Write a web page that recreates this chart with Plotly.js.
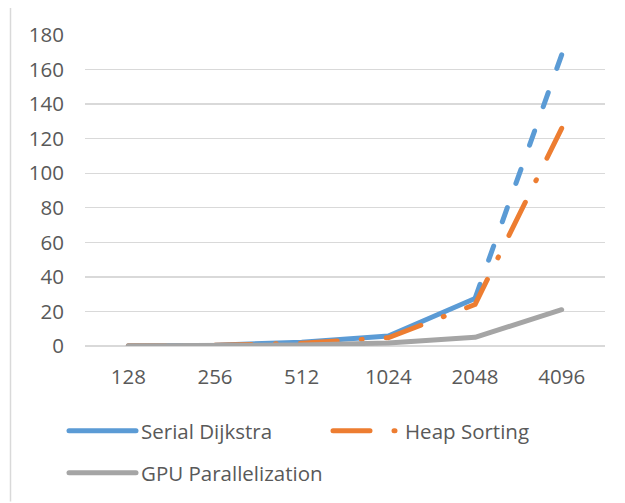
<!DOCTYPE html>
<html>
<head>
<meta charset="utf-8">
<script src="https://cdn.plot.ly/plotly-3.0.1.min.js"></script>
<style>
  html, body { margin: 0; padding: 0; background: #fff; }
  #chart { width: 625px; height: 503px; }
  path.js-line { stroke-linecap: round; stroke-linejoin: round; }
</style>
</head>
<body>
<div id="chart"></div>
<script>
const categories = ['128', '256', '512', '1024', '2048', '4096'];
const serialDijkstra = [0.1, 0.5, 2.2, 5.8, 27.5, 168.5];
const heapSorting = [0.1, 0.4, 1.6, 4.8, 24, 126];
const gpuParallelization = [0.1, 0.2, 0.6, 1.8, 5, 21];
const yTicks = [0, 20, 40, 60, 80, 100, 120, 140, 160, 180];

const BLUE = '#5b9bd5', ORANGE = '#ed7d31', GRAY = '#a5a5a5';
const LW = 5;
const FONT = 'Open Sans, Lato, sans-serif';
const FS = 20.5;

const traces = [
  {
    x: categories.slice(0, 5), y: serialDijkstra.slice(0, 5),
    name: 'Serial Dijkstra', mode: 'lines', legend: 'legend',
    line: { color: BLUE, width: LW, dash: 'solid' }, hoverinfo: 'skip'
  },
  {
    x: categories.slice(4), y: serialDijkstra.slice(4),
    name: 'Serial Dijkstra', mode: 'lines', showlegend: false,
    line: { color: BLUE, width: LW, dash: '15px,25.7px' }, hoverinfo: 'skip'
  },
  {
    x: categories, y: heapSorting,
    name: 'Heap Sorting', mode: 'lines', legend: 'legend2',
    line: { color: ORANGE, width: LW, dash: '37px,24px,1px,24px' }, hoverinfo: 'skip'
  },
  {
    x: categories, y: gpuParallelization,
    name: 'GPU Parallelization', mode: 'lines', legend: 'legend3',
    line: { color: GRAY, width: LW, dash: 'solid' }, hoverinfo: 'skip'
  }
];

const plotL = 85, plotR = 605, plotT = 35, plotB = 347;
const W = 625, H = 503;
const pw = plotR - plotL, ph = plotB - plotT;
const px = v => (v - plotL) / pw;
const py = v => (plotB - v) / ph;

function legendAt(x, y) {
  return {
    orientation: 'h', x: px(x), xanchor: 'left', y: py(y), yanchor: 'middle',
    itemwidth: 67,
    font: { family: FONT, size: FS, color: '#595959' },
    bgcolor: 'rgba(0,0,0,0)', borderwidth: 0, itemclick: false, itemdoubleclick: false
  };
}

const layout = {
  width: W, height: H,
  margin: { l: plotL, r: W - plotR, t: plotT, b: H - plotB, pad: 0 },
  paper_bgcolor: '#ffffff', plot_bgcolor: '#ffffff',
  font: { family: FONT, size: FS, color: '#595959' },
  showlegend: true,
  xaxis: {
    type: 'category', range: [-0.5, 5.5],
    categoryorder: 'array', categoryarray: categories,
    showgrid: false, zeroline: false, showline: false, ticks: '',
    tickfont: { family: FONT, size: FS, color: '#595959' },
    ticklabelstandoff: 16, fixedrange: true
  },
  yaxis: {
    range: [0, 180], tickmode: 'array', tickvals: yTicks,
    ticktext: yTicks.map(String),
    showgrid: true, gridcolor: '#d9d9d9', gridwidth: 1.3,
    zeroline: true, zerolinecolor: '#d9d9d9', zerolinewidth: 1.3,
    showline: false, ticks: '',
    tickfont: { family: FONT, size: FS, color: '#595959' },
    ticklabelstandoff: 20, fixedrange: true
  },
  legend: legendAt(64, 431),
  legend2: legendAt(328, 431),
  legend3: legendAt(64, 473),
  shapes: [
    {
      type: 'line', xref: 'paper', yref: 'paper',
      x0: px(10.5), x1: px(10.5), y0: py(8), y1: py(503),
      line: { color: '#d9d9d9', width: 1.5 }, layer: 'below'
    }
  ]
};

Plotly.newPlot('chart', traces, layout, { displayModeBar: false, staticPlot: true });
</script>
</body>
</html>
